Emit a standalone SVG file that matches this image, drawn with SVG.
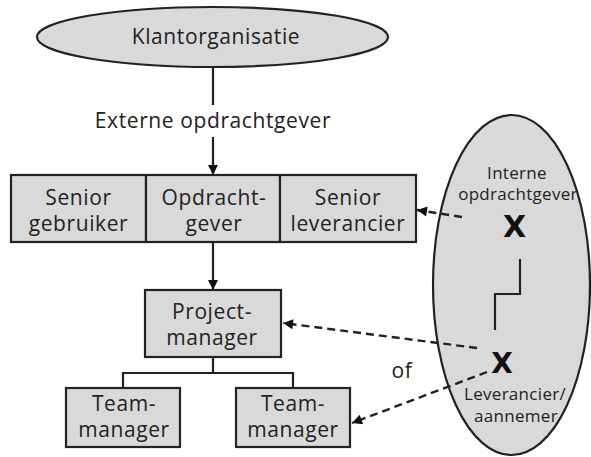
<svg xmlns="http://www.w3.org/2000/svg" width="591" height="457" viewBox="0 0 591 457">
  <style>
    .shape { fill: #d9d9d9; stroke: #222; stroke-width: 2.2; }
    .lbl { font-family: "Open Sans", "Noto Sans", sans-serif; font-size: 21px; fill: #222; text-anchor: middle; letter-spacing: 0.6px; }
    .small { font-size: 17px; letter-spacing: 0.3px; }
    .mark { font-family: "DejaVu Sans", sans-serif; font-weight: bold; fill: #111; text-anchor: middle; }
    .line { fill: none; stroke: #222; stroke-width: 2.2; }
    .dash { fill: none; stroke: #222; stroke-width: 2.4; stroke-dasharray: 8 5; }
  </style>
  <defs>
    <marker id="arrow" viewBox="0 0 10 10" refX="10" refY="5" markerWidth="11" markerHeight="10" markerUnits="userSpaceOnUse" orient="auto">
      <path d="M0,0 L10,5 L0,10 Z" fill="#111"/>
    </marker>
  </defs>

  <rect width="591" height="457" fill="#fff"/>

  <!-- client organisation -->
  <g id="klantorganisatie">
    <ellipse class="shape" cx="212.5" cy="37" rx="175.5" ry="30"/>
    <text class="lbl" x="216" y="44">Klantorganisatie</text>
  </g>

  <!-- internal side: large ellipse with the two roles -->
  <g id="interne-organisatie">
    <ellipse class="shape" cx="511.5" cy="285" rx="78.5" ry="170"/>
    <text class="lbl small" x="517" y="179">Interne</text>
    <text class="lbl small" x="518" y="200">opdrachtgever</text>
    <text class="mark" x="514.5" y="237" font-size="30">X</text>
    <polyline class="line" points="520,259 520,294 495,294 495,330"/>
    <text class="mark" x="502" y="373" font-size="28">X</text>
    <text class="lbl small" x="515" y="400">Leverancier/</text>
    <text class="lbl small" x="516" y="422">aannemer</text>
  </g>

  <g id="senior-gebruiker">
    <rect class="shape" x="11" y="175" width="135" height="67"/>
    <text class="lbl" x="78.5" y="205">Senior</text>
    <text class="lbl" x="78.5" y="231">gebruiker</text>
  </g>
  <g id="opdrachtgever">
    <rect class="shape" x="146" y="175" width="134" height="67"/>
    <text class="lbl" x="214" y="205">Opdracht-</text>
    <text class="lbl" x="214" y="231">gever</text>
  </g>
  <g id="senior-leverancier">
    <rect class="shape" x="280" y="175" width="136" height="67"/>
    <text class="lbl" x="348" y="205">Senior</text>
    <text class="lbl" x="348" y="231">leverancier</text>
  </g>

  <g id="projectmanager">
    <rect class="shape" x="145" y="290" width="136" height="67"/>
    <text class="lbl" x="212" y="319">Project-</text>
    <text class="lbl" x="212" y="345">manager</text>
  </g>

  <g id="teammanager-1">
    <rect class="shape" x="66" y="388" width="114" height="59"/>
    <text class="lbl" x="124" y="411">Team-</text>
    <text class="lbl" x="124" y="437">manager</text>
  </g>
  <g id="teammanager-2">
    <rect class="shape" x="236" y="388" width="114" height="59"/>
    <text class="lbl" x="293" y="411">Team-</text>
    <text class="lbl" x="293" y="437">manager</text>
  </g>

  <g id="connectors">
    <line class="line" x1="213" y1="67" x2="213" y2="105"/>
    <text class="lbl" x="213" y="128">Externe opdrachtgever</text>
    <line class="line" x1="213" y1="137" x2="213" y2="175" marker-end="url(#arrow)"/>
    <line class="line" x1="213" y1="242" x2="213" y2="290" marker-end="url(#arrow)"/>
    <polyline class="line" points="213,357 213,373"/>
    <polyline class="line" points="123,388 123,373 293,373 293,388"/>
    <line class="dash" x1="462" y1="217" x2="417" y2="210" marker-end="url(#arrow)"/>
    <line class="dash" x1="477" y1="348" x2="283" y2="323" marker-end="url(#arrow)"/>
    <line class="dash" x1="487" y1="372" x2="352" y2="423" marker-end="url(#arrow)"/>
    <text class="lbl" x="402" y="378">of</text>
  </g>
</svg>
